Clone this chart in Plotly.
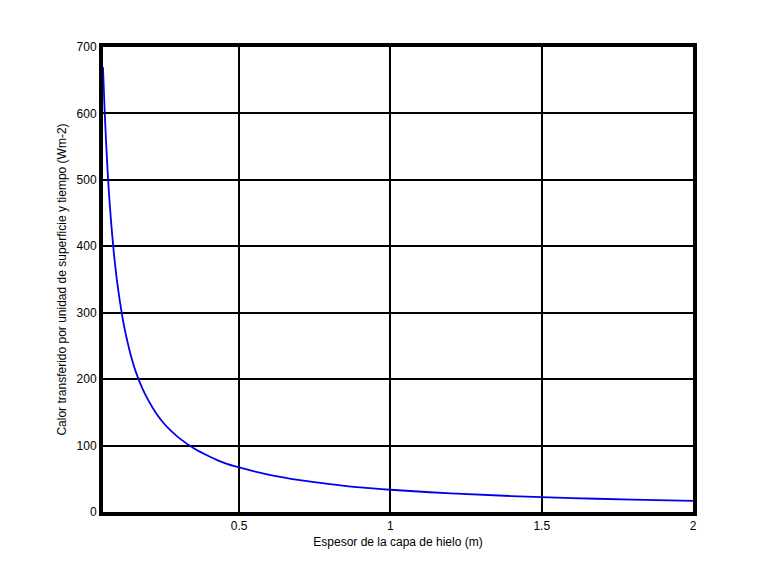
import plotly.graph_objects as go

espesor = [0.05, 0.055, 0.06, 0.065, 0.07, 0.075, 0.08, 0.09, 0.10, 0.11, 0.12, 0.13, 0.14,
           0.15, 0.16, 0.18, 0.20, 0.225, 0.25, 0.275, 0.30, 0.35, 0.40, 0.45,
           0.50, 0.60, 0.70, 0.80, 0.90, 1.00, 1.20, 1.40, 1.60, 1.80, 2.00]
calor = [670, 609, 558, 515, 478, 447, 419, 372, 335, 305, 279, 258, 239,
         223, 209, 186, 168, 149, 134, 122, 112, 96, 84, 74,
         67, 56, 48, 42, 37, 33.5, 28, 24, 21, 18.6, 16.8]

x_ticks = [0.5, 1, 1.5, 2]
x_ticklabels = ["0.5", "1", "1.5", "2"]
y_ticks = [0, 100, 200, 300, 400, 500, 600, 700]

fig = go.Figure()
fig.add_trace(go.Scatter(x=espesor, y=calor, mode="lines", line_shape="spline",
                         line=dict(color="#0000EE", width=1.8), showlegend=False))

font = dict(family="Liberation Sans, Arial, sans-serif", size=12, color="black")
fig.update_layout(
    width=768, height=576,
    margin=dict(l=95, r=83, t=39, b=72),
    paper_bgcolor="white", plot_bgcolor="white",
    font=font,
    xaxis=dict(range=[0.05, 2], tickvals=x_ticks, ticktext=x_ticklabels,
               showgrid=True, gridcolor="black", gridwidth=2,
               showline=True, linecolor="black", linewidth=4, mirror=True,
               ticks="inside", ticklen=5, tickwidth=2, tickcolor="black",
               zeroline=False, tickfont=dict(size=12),
               title=dict(text="Espesor de la capa de hielo (m)", standoff=6,
                          font=dict(size=12))),
    yaxis=dict(range=[0, 700], tickvals=y_ticks,
               showgrid=True, gridcolor="black", gridwidth=2,
               showline=True, linecolor="black", linewidth=4, mirror=True,
               ticks="inside", ticklen=5, tickwidth=2, tickcolor="black",
               zeroline=False, tickfont=dict(size=12),
               title=dict(text="Calor transferido por unidad de superficie y tiempo (Wm-2)",
                          standoff=8, font=dict(size=12))),
)
fig.write_html("out.html")
